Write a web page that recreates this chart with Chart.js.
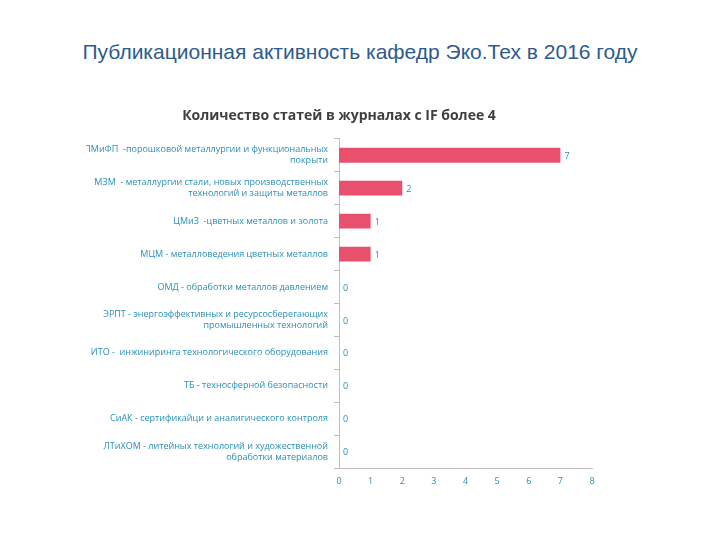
<!DOCTYPE html>
<html><head><meta charset="utf-8">
<script src="https://cdn.jsdelivr.net/npm/chart.js@4/dist/chart.umd.min.js"></script>
<style>
body{margin:0;background:#fff;width:720px;height:540px;overflow:hidden;font-family:"Open Sans",sans-serif}
h1{position:absolute;left:0;width:720px;top:40px;margin:0;text-align:center;font-weight:normal;font-size:21px;color:#2d5b8c;font-family:"Liberation Sans",Arial,sans-serif}
#wrap{position:absolute;left:86px;top:106px;width:530px;height:384px}
</style></head><body>
<h1>Публикационная активность кафедр Эко.Тех в 2016 году</h1>
<div id="wrap"><canvas id="c"></canvas></div>
<script>
// === Data ===
const categories = [
  ['ПМиФП  -порошковой металлургии и функциональных', 'покрыти'],
  ['МЗМ  - металлургии стали, новых производственных', 'технологий и защиты металлов'],
  'ЦМиЗ  -цветных металлов и золота',
  'МЦМ - металловедения цветных металлов',
  'ОМД - обработки металлов давлением',
  ['ЭРПТ - энергоэффективных и ресурсосберегающих', 'промышленных технологий'],
  'ИТО -  инжиниринга технологического оборудования',
  'ТБ - техносферной безопасности',
  'СиАК - сертификайци и аналигического контроля',
  ['ЛТиХОМ - литейных технологий и художественной', 'обработки материалов']
];
const articles = [7, 2, 1, 1, 0, 0, 0, 0, 0, 0];
const xTicks = [0, 1, 2, 3, 4, 5, 6, 7, 8];

const textBlue = '#2a8fb5';
Chart.defaults.font.family = '"Open Sans", sans-serif';

// draw value next to each bar
const valueLabels = {
  id: 'valueLabels',
  afterDatasetsDraw(chart) {
    const ctx = chart.ctx;
    const meta = chart.getDatasetMeta(0);
    ctx.save();
    ctx.font = '9px "Open Sans"';
    ctx.fillStyle = textBlue;
    ctx.textBaseline = 'middle';
    meta.data.forEach((bar, i) => {
      ctx.fillText(articles[i], bar.x + 4, bar.y + 1);
    });
    ctx.restore();
  }
};

new Chart(document.getElementById('c'), {
  type: 'bar',
  data: {
    labels: categories,
    datasets: [{
      data: articles,
      backgroundColor: '#e8506e',
      barPercentage: 0.45,
      categoryPercentage: 1
    }]
  },
  options: {
    indexAxis: 'y',
    responsive: true,
    maintainAspectRatio: false,
    animation: false,
    layout: { padding: { right: 24 } },
    plugins: {
      legend: { display: false },
      tooltip: { enabled: false },
      title: {
        display: true,
        text: 'Количество статей в журналах с IF более 4',
        color: '#404040',
        font: { size: 14, weight: 'bold' },
        padding: { top: 2, bottom: 14 }
      }
    },
    scales: {
      x: {
        min: 0, max: 8,
        afterBuildTicks: axis => { axis.ticks = xTicks.map(v => ({ value: v })); },
        grid: { display: false, drawOnChartArea: false, tickLength: 5, color: '#bfbfbf' },
        border: { color: '#bfbfbf' },
        ticks: { color: textBlue, font: { size: 9 } }
      },
      y: {
        grid: { drawOnChartArea: false, offset: true, tickLength: 5, color: '#bfbfbf' },
        border: { color: '#bfbfbf' },
        ticks: { color: textBlue, font: { size: 9 }, padding: 6 }
      }
    }
  },
  plugins: [valueLabels]
});
</script>
</body></html>
